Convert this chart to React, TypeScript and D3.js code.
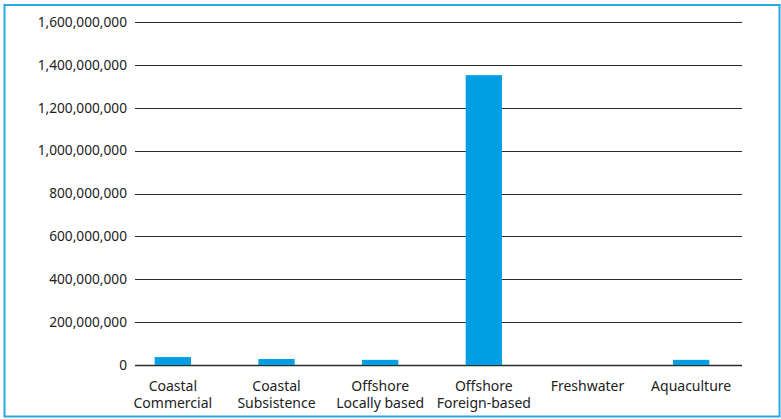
import { useEffect, useRef } from "react";
import * as d3 from "d3";

const categories = [
  ["Coastal", "Commercial"],
  ["Coastal", "Subsistence"],
  ["Offshore", "Locally based"],
  ["Offshore", "Foreign-based"],
  ["Freshwater"],
  ["Aquaculture"],
];
const values = [37000000, 28000000, 24000000, 1352000000, 0, 24000000];
const yTicks = [0, 200000000, 400000000, 600000000, 800000000, 1000000000, 1200000000, 1400000000, 1600000000];

const width = 781, height = 419;
const margin = { top: 22, bottom: 54, left: 135, right: 39 };

const App = () => {
  const ref = useRef<SVGSVGElement>(null);

  useEffect(() => {
    const svg = d3.select(ref.current);
    svg.selectAll("*").remove();

    const keys = categories.map(c => c.join(" "));
    const x = d3.scaleBand()
      .domain(keys)
      .range([121, 743])
      .paddingInner(0.65)
      .paddingOuter(0.325);

    const y = d3.scaleLinear()
      .domain([0, 1600000000])
      .range([height - margin.bottom, margin.top]);

    // frame
    svg.append("rect")
      .attr("x", 4.5).attr("y", 5)
      .attr("width", 775).attr("height", 411.5)
      .attr("fill", "none")
      .attr("stroke", "#2aa8e0")
      .attr("stroke-width", 2);

    // gridlines
    svg.append("g")
      .selectAll("line")
      .data(yTicks)
      .join("line")
        .attr("x1", margin.left)
        .attr("x2", width - margin.right)
        .attr("y1", d => Math.round(y(d)) + 0.5)
        .attr("y2", d => Math.round(y(d)) + 0.5)
        .attr("stroke", "#2b2b2b")
        .attr("stroke-width", d => d === 0 ? 1.6 : 1);

    const fmt = d3.format(",");
    svg.append("g")
      .selectAll("text")
      .data(yTicks)
      .join("text")
        .attr("x", 127)
        .attr("y", d => y(d))
        .attr("dy", "0.35em")
        .attr("text-anchor", "end")
        .attr("font-family", "'Noto Sans', sans-serif")
        .attr("font-size", 13.7)
        .attr("fill", "#222")
        .text(d => fmt(d));

    // bars
    svg.append("g")
      .selectAll("rect")
      .data(values)
      .join("rect")
        .attr("x", (d, i) => x(keys[i]) as number)
        .attr("y", d => y(d))
        .attr("width", x.bandwidth())
        .attr("height", d => y(0) - y(d))
        .attr("fill", "#009fe3");

    // category labels
    const lab = svg.append("g")
      .selectAll("text")
      .data(categories)
      .join("text")
        .attr("x", (d, i) => (x(keys[i]) as number) + x.bandwidth() / 2)
        .attr("y", 391)
        .attr("text-anchor", "middle")
        .attr("font-family", "'Noto Sans', sans-serif")
        .attr("font-size", 14)
        .attr("fill", "#222");
    lab.selectAll("tspan")
      .data(d => d)
      .join("tspan")
        .attr("x", function () { return (this.parentNode as SVGTextElement).getAttribute("x"); })
        .attr("dy", (d, i) => i === 0 ? 0 : 16.5)
        .text(d => d);
  }, []);

  return (
    <svg
      ref={ref}
      width={width}
      height={height}
      style={{ position: "absolute", left: 0, top: 0, background: "#fff" }}
    />
  );
};

export default App;
